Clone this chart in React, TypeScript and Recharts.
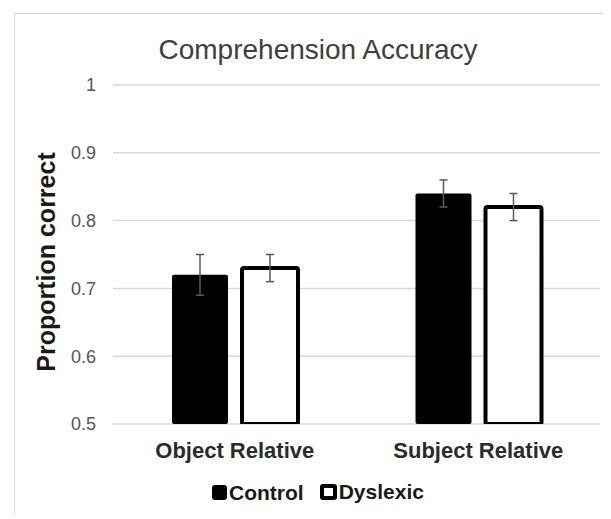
import React from "react";
import {
  Bar,
  BarChart,
  CartesianGrid,
  ErrorBar,
  Legend,
  XAxis,
  YAxis,
} from "recharts";

const categories = ["Object Relative", "Subject Relative"];
const controlValues = [0.72, 0.84];
const dyslexicValues = [0.73, 0.82];
const controlErrors = [0.03, 0.02];
const dyslexicErrors = [0.02, 0.02];
const yTicks = [0.5, 0.6, 0.7, 0.8, 0.9, 1];

const data = categories.map((name, i) => ({
  name,
  control: controlValues[i],
  dyslexic: dyslexicValues[i],
  controlErr: controlErrors[i],
  dyslexicErr: dyslexicErrors[i],
}));

const font = "'Liberation Sans', Arial, sans-serif";

function LegendBox() {
  const item = (label: string, filled: boolean, gap: number) => (
    <span style={{ display: "inline-flex", alignItems: "center", marginRight: gap }}>
      <span
        style={{
          display: "inline-block",
          boxSizing: "border-box",
          width: filled ? 15 : 17,
          height: filled ? 15 : 16,
          background: filled ? "#000" : "#fff",
          border: filled ? "none" : "4px solid #000",
          borderRadius: 3,
          marginRight: 2,
        }}
      />
      <span>{label}</span>
    </span>
  );
  return (
    <div
      style={{
        textAlign: "center",
        fontFamily: font,
        fontWeight: "bold",
        fontSize: 21,
        color: "#1a1a1a",
        lineHeight: "24px",
      }}
    >
      {item("Control", true, 16)}
      {item("Dyslexic", false, 0)}
    </div>
  );
}

export default function App() {
  return (
    <div
      style={{
        marginLeft: 6,
        marginTop: 5,
        borderLeft: "1px solid #d9d9d9",
        borderTop: "1px solid #d9d9d9",
        width: 596,
        height: 500,
        position: "relative",
        background: "#fff",
      }}
    >
      <div
        style={{
          position: "absolute",
          top: 20,
          left: 0,
          width: 606,
          textAlign: "center",
          fontFamily: font,
          fontSize: 28,
          color: "#404040",
          zIndex: 1,
        }}
      >
        Comprehension Accuracy
      </div>
      <BarChart
        width={596}
        height={500}
        data={data}
        margin={{ top: 71, right: 11, left: 0, bottom: 50 }}
        barSize={56}
        barGap={14}
      >
        <CartesianGrid vertical={false} stroke="#d9d9d9" strokeWidth={1.5} />
        <XAxis
          dataKey="name"
          height={40}
          axisLine={false}
          tickLine={false}
          tickSize={0}
          tickMargin={18}
          tick={{ fontFamily: font, fontWeight: "bold", fontSize: 22, fill: "#2b2b2b" }}
        />
        <YAxis
          width={98}
          domain={[0.5, 1]}
          ticks={yTicks}
          allowDataOverflow
          axisLine={false}
          tickLine={false}
          tickSize={0}
          tickMargin={17}
          tick={{ fontFamily: font, fontSize: 18, fill: "#555" }}
          label={() => (
            <text
              x={31}
              y={248}
              transform="rotate(-90 31 248)"
              textAnchor="middle"
              dominantBaseline="central"
              style={{ fontFamily: font, fontWeight: "bold", fontSize: 25, fill: "#1a1a1a" }}
            >
              Proportion correct
            </text>
          )}
        />
        <Legend
          verticalAlign="middle"
          align="center"
          wrapperStyle={{ position: "absolute", top: 466, left: 0, width: 606 }}
          content={() => <LegendBox />}
        />
        <Bar dataKey="control" name="Control" fill="#000" radius={2} isAnimationActive={false}>
          <ErrorBar dataKey="controlErr" width={4} stroke="#595959" strokeWidth={1.5} direction="y" />
        </Bar>
        <Bar
          dataKey="dyslexic"
          name="Dyslexic"
          fill="#fff"
          stroke="#000"
          strokeWidth={4}
          radius={2}
          isAnimationActive={false}
        >
          <ErrorBar dataKey="dyslexicErr" width={4} stroke="#595959" strokeWidth={1.5} direction="y" />
        </Bar>
      </BarChart>
    </div>
  );
}
